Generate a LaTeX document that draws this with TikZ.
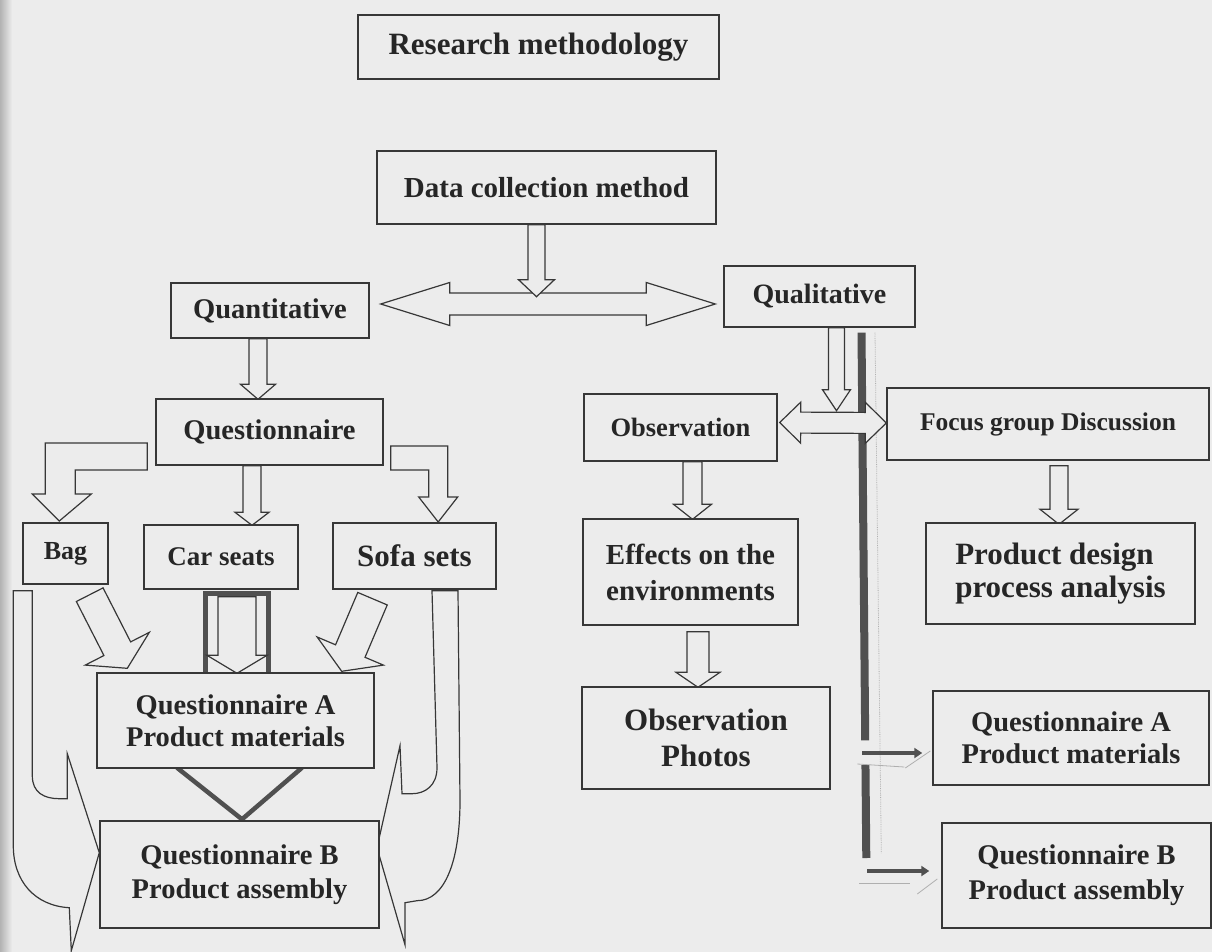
\documentclass[tikz,border=0pt]{standalone}
\usepackage{fontspec}
\setmainfont{Liberation Serif}
\usetikzlibrary{calc,arrows.meta}

\definecolor{bgc}{RGB}{236,236,236}
\definecolor{inkc}{RGB}{55,55,55}
\definecolor{txtc}{RGB}{38,38,38}
\definecolor{barc}{RGB}{80,80,80}
\definecolor{faintc}{RGB}{175,175,175}

\pgfdeclarelayer{back}
\pgfdeclarelayer{mid}
\pgfsetlayers{back,mid,main}

\tikzset{
  box/.style={draw=inkc, fill=bgc, line width=1.4pt, inner sep=0pt,
              align=center, text=txtc},
  sz/.style 2 args={minimum width=#1pt, minimum height=#2pt},
  fnt/.style 2 args={font=\fontsize{#1}{#2}\selectfont\bfseries},
  blk/.style={draw=inkc, fill=bgc, line width=1.2pt, line join=miter},
  heavy/.style={draw=barc, line width=5pt, line join=miter},
  thinarrow/.style={draw=barc, line width=4pt,
                    -{Triangle[length=8pt,width=10pt]}},
  faint/.style={draw=faintc, line width=0.8pt},
}

% straight block arrow: start, tip, half shaft, half head, head length
\newcommand\blockarrow[5]{%
  \coordinate (baX) at ($(#2)!#5!(#1)$);
  \draw[blk] ($(#1)!#3!90:(#2)$) -- ($(baX)!#3!90:(#2)$)
    -- ($(baX)!#4!90:(#2)$) -- (#2) -- ($(baX)!#4!-90:(#2)$)
    -- ($(baX)!#3!-90:(#2)$) -- ($(#1)!#3!-90:(#2)$) -- cycle;}

% two-headed block arrow: tip A, tip B, half shaft, half head, head length
\newcommand\dblarrow[5]{%
  \coordinate (daA) at ($(#1)!#5!(#2)$);
  \coordinate (daB) at ($(#2)!#5!(#1)$);
  \draw[blk] (#1) -- ($(daA)!#4!90:(#2)$) -- ($(daA)!#3!90:(#2)$)
    -- ($(daB)!#3!90:(#2)$) -- ($(daB)!#4!90:(#2)$) -- (#2)
    -- ($(daB)!#4!-90:(#2)$) -- ($(daB)!#3!-90:(#2)$)
    -- ($(daA)!#3!-90:(#2)$) -- ($(daA)!#4!-90:(#2)$) -- cycle;}

\begin{document}
\begin{tikzpicture}[x=1pt,y=-1pt]
\useasboundingbox (0,0) rectangle (1212,952);

\begin{pgfonlayer}{back}
  \fill[bgc] (0,0) rectangle (1212,952);
  \shade[left color=black!30, right color=bgc] (0,0) rectangle (12,952);
\end{pgfonlayer}

% ---------- boxes ----------
\node[box, sz={361}{64}, fnt={31}{35}] (research) at (538.5,47) {Research methodology};
\node[box, sz={339}{73}, fnt={29}{33}] (data) at (546.5,187.5) {Data collection method};
\node[box, sz={198}{55}, fnt={28.5}{32}] (quant) at (270,310.5) {Quantitative};
\node[box, sz={191}{61}, fnt={28}{32}] (qual) at (819.5,296.5) {Qualitative};
\node[box, sz={227}{66}, fnt={28.5}{32}] (quest) at (269.5,432) {Questionnaire};
\node[box, sz={85}{61}, fnt={26}{30}] (bag) at (65.5,553.5) {Bag};
\node[box, sz={154}{64}, fnt={27}{31}] (car) at (221,557) {Car seats};
\node[box, sz={163}{66}, fnt={31}{35}] (sofa) at (414.5,556) {Sofa sets};
\node[box, sz={277}{95}, fnt={28.5}{32}] (qa) at (235.5,720.5) {Questionnaire A\\Product materials};
\node[box, sz={279}{107}, fnt={28.5}{34}] (qb) at (239.5,874.5) {Questionnaire B\\Product assembly};

\node[box, sz={193}{67}, fnt={26.5}{30}] (obs) at (680.5,427.5) {Observation};
\node[box, sz={322}{72}, fnt={25.5}{30}] (focus) at (1048,424) {Focus group Discussion};
\node[box, sz={215}{106}, fnt={29}{36}] (effects) at (690.5,572) {Effects on the\\environments};
\node[box, sz={248}{102}, fnt={31}{36}] (photos) at (706,738) {Observation\\Photos};
\node[box, sz={269}{101}, fnt={31}{33}, align=left] (product) at (1060.5,573.5) {Product design\\process analysis};
\node[box, sz={276}{94}, fnt={28.5}{32}] (qa2) at (1071,738) {Questionnaire A\\Product materials};
\node[box, sz={269}{105}, fnt={28.5}{35}] (qb2) at (1076.5,875.5) {Questionnaire B\\Product assembly};

% ---------- divider bar on the qualitative side ----------
\begin{pgfonlayer}{back}
  \coordinate (bt) at ($(qual.south)+(42,5)$);
  \coordinate (bb) at ($(qb2.west)+(-75,-17.5)$);
  \draw[barc, line width=8pt] (bt) -- ($(bt)!0.776!(bb)$);
  \draw[barc, line width=8pt] ($(bt)!0.823!(bb)$) -- (bb);
  \draw[faintc, line width=0.8pt, densely dotted]
    ($(bt)+(13.5,0)$) -- ($(bb)+(15,-5)$);
  % light marks beside the two short arrows
  \draw[faint] ($(qa2.west)+(-75,26)$) -- ($(qa2.west)+(-28,29)$);
  \draw[faint] ($(qa2.west)+(-27,30)$) -- ($(qa2.west)+(-2,13)$);
  \draw[faint] ($(qb2.west)+(-82,7.5)$) -- ($(qb2.west)+(-31,7.5)$);
  \draw[faint] ($(qb2.west)+(-24,18.5)$) -- ($(qb2.west)+(-4,3.5)$);
\end{pgfonlayer}

% ---------- block arrows ----------
\begin{pgfonlayer}{mid}
  % Quantitative <-> Qualitative, fed from Data collection method
  \coordinate (qqA) at ($(quant.east)+(11,-6.5)$);
  \coordinate (qqB) at ($(qual.west)+(-8,7.5)$);
  \dblarrow{qqA}{qqB}{11pt}{21.5pt}{69pt}
  \coordinate (d1) at ($(data.south)+(-10,0)$);
  \coordinate (d2) at ($(data.south)+(-10,72)$);
  \blockarrow{d1}{d2}{8.5pt}{18pt}{17pt}

  % Quantitative -> Questionnaire
  \coordinate (q1) at ($(quant.south)+(-12,0)$);
  \coordinate (q2) at ($(quest.north)+(-11.5,1)$);
  \blockarrow{q1}{q2}{9pt}{17.5pt}{15pt}

  % Questionnaire -> Bag (bent)
  \begin{scope}[shift={(quest.west)}]
    \draw[blk] (-8,11) -- (-110,11) -- (-110,62) -- (-123,62) -- (-96,89)
      -- (-64,62) -- (-80,62) -- (-80,38) -- (-8,38) -- cycle;
  \end{scope}

  % Questionnaire -> Car seats
  \coordinate (c1) at ($(quest.south)+(-17.5,0)$);
  \coordinate (c2) at ($(car.north)+(31,1)$);
  \blockarrow{c1}{c2}{9pt}{17pt}{13pt}

  % Questionnaire -> Sofa sets (bent)
  \begin{scope}[shift={(quest.east)}]
    \draw[blk] (7,14) -- (64,14) -- (64,65) -- (74,65) -- (54.5,90)
      -- (35,65) -- (45,65) -- (45,38) -- (7,38) -- cycle;
  \end{scope}

  % Bag -> Questionnaire A, Sofa sets -> Questionnaire A
  \coordinate (g1) at ($(bag.south east)+(-19,10)$);
  \coordinate (g2) at ($(qa.north west)+(31,-4)$);
  \blockarrow{g1}{g2}{15pt}{36pt}{22pt}
  \coordinate (s1) at ($(sofa.south)+(-42,9)$);
  \coordinate (s2) at ($(qa.north east)+(-33,-1)$);
  \blockarrow{s1}{s2}{16pt}{36pt}{22pt}

  % Car seats -> Questionnaire A (framed)
  \begin{scope}[shift={(car.south)}]
    \draw[heavy] (-16,84) -- (-16,4) -- (47,4) -- (47,84);
  \end{scope}
  \coordinate (k1) at ($(car.south)+(16,7)$);
  \coordinate (k2) at ($(qa.north)+(1.5,1)$);
  \blockarrow{k1}{k2}{19pt}{30pt}{18pt}

  % Questionnaire A -> Questionnaire B
  \coordinate (vl) at ($(qa.south)+(-58.5,-1)$);
  \coordinate (vr) at ($(qa.south)+(66.5,-1)$);
  \coordinate (vt) at ($(qb.north)+(2.5,-1)$);
  \draw[heavy, line width=4.5pt] (vl) -- (vt) -- (vr);

  % Bag -> Questionnaire B (curved, left)
  \begin{scope}[shift={(bag.south west)}]
    \draw[blk] (-9,6) -- (10,6) -- (10,191) .. controls (10,208) and (22,214) .. (37,214)
      -- (45,214) -- (45,169) -- (77,268) -- (49,366) -- (47,323)
      .. controls (12,321) and (-9,296) .. (-9,261) -- cycle;
  \end{scope}

  % Sofa sets -> Questionnaire B (curved, right)
  \begin{scope}[shift={(sofa.south)}]
    \draw[blk] (17.5,1) -- (43.5,1) -- (45.5,211)
      .. controls (45.5,271) and (30.5,311) .. (2.5,311) -- (-9.5,313)
      -- (-9.5,355) -- (-37.5,258) -- (-14.5,156) -- (-12.5,204) -- (-2.5,204)
      .. controls (10.5,204) and (22.5,196) .. (22.5,178) -- cycle;
  \end{scope}

  % Observation <-> Focus group Discussion, fed from Qualitative
  \coordinate (of1) at ($(obs.east)+(2,-5)$);
  \coordinate (of2) at ($(focus.west)+(0,-1)$);
  \dblarrow{of1}{of2}{10.5pt}{20.5pt}{21pt}
  \coordinate (l1) at ($(qual.south)+(17,0)$);
  \coordinate (l2) at ($(qual.south)+(17,83)$);
  \blockarrow{l1}{l2}{8pt}{14pt}{21pt}

  % Observation -> Effects -> Photos
  \coordinate (o1) at ($(obs.south)+(12,0)$);
  \coordinate (o2) at ($(effects.north)+(2,1)$);
  \blockarrow{o1}{o2}{9.5pt}{19pt}{15pt}
  \coordinate (e1) at ($(effects.south)+(7.5,6)$);
  \coordinate (e2) at ($(photos.north)+(-8,1)$);
  \blockarrow{e1}{e2}{11pt}{22pt}{15pt}

  % Focus group Discussion -> Product design process analysis
  \coordinate (f1) at ($(focus.south)+(11,5)$);
  \coordinate (f2) at ($(product.north)+(-1.5,2)$);
  \blockarrow{f1}{f2}{9pt}{19pt}{15pt}

  % short arrows to the questionnaires
  \coordinate (t1) at ($(qa2.west)+(-70,15)$);
  \coordinate (t2) at ($(qb2.west)+(-74,-4.5)$);
  \draw[thinarrow] (t1) -- ($(qa2.west)+(-10,15)$);
  \draw[thinarrow] (t2) -- ($(qb2.west)+(-12,-4.5)$);
\end{pgfonlayer}
\end{tikzpicture}
\end{document}
